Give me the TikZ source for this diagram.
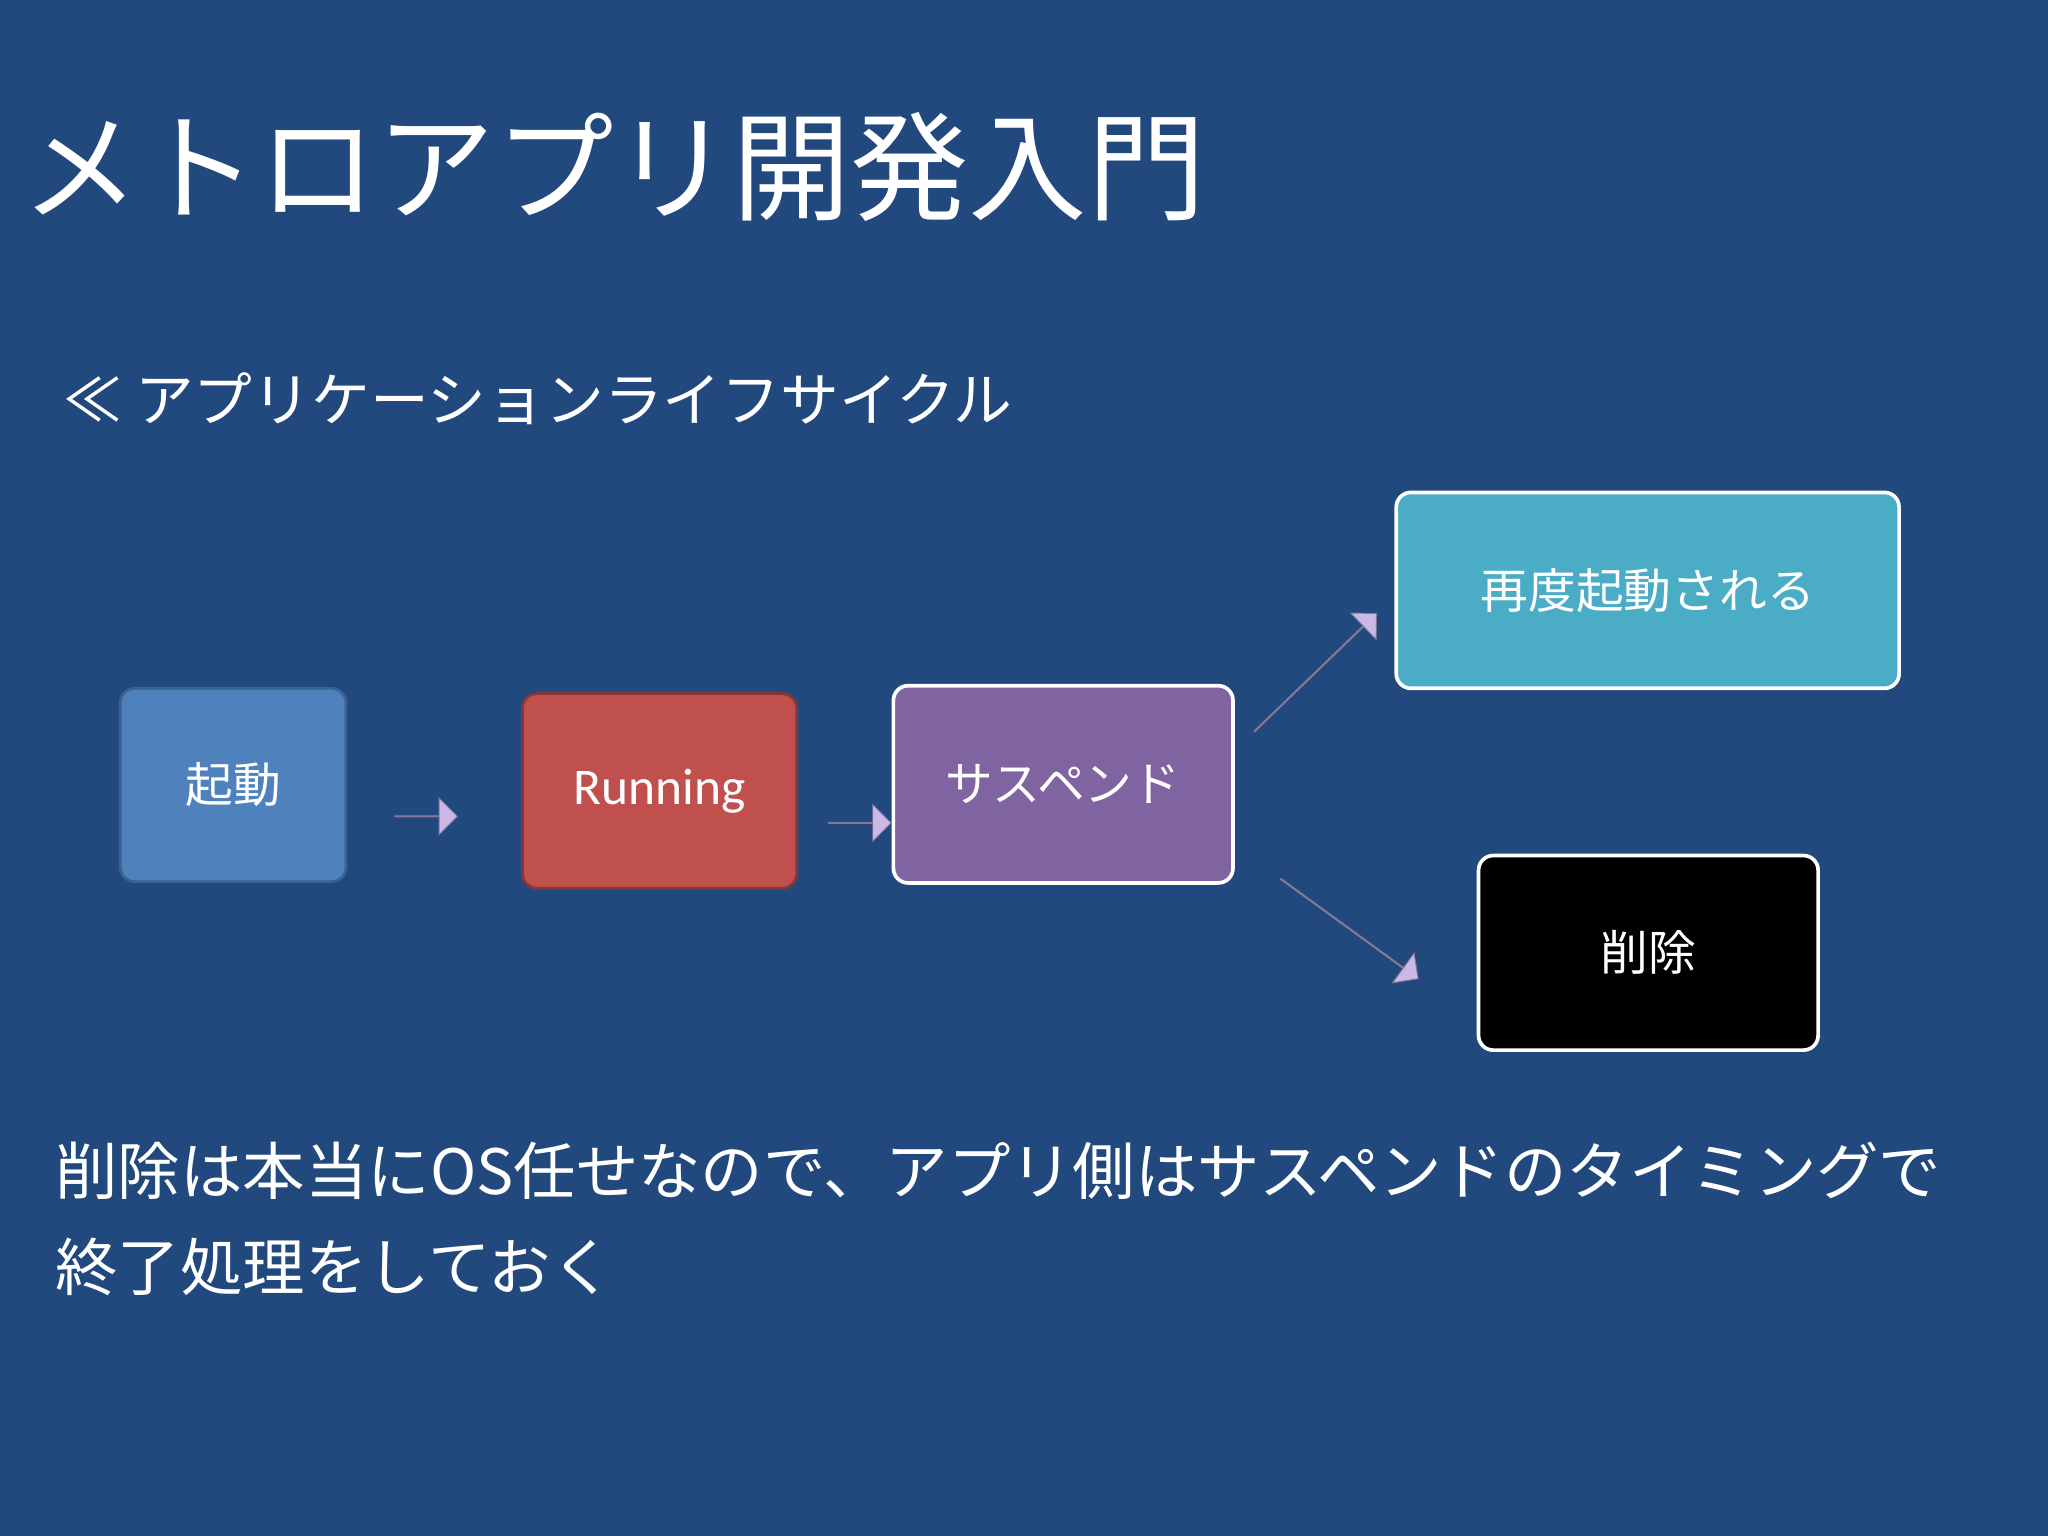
\documentclass[tikz,border=0pt]{standalone}
\usepackage{fontspec}
\setmainfont{Noto Sans CJK JP}
\newfontfamily\lat{Carlito}
\usetikzlibrary{shapes.arrows}
\definecolor{bg}{HTML}{21497D}
\definecolor{arr}{HTML}{CBB8E6}
\definecolor{c1}{HTML}{4F81BD}
\definecolor{c2}{HTML}{C0504D}
\definecolor{c3}{HTML}{8064A2}
\definecolor{c4}{HTML}{4BACC6}
\begin{document}
\begin{tikzpicture}[x=0.05cm,y=-0.05cm,
  box/.style={draw=white,line width=4pt,rounded corners=16pt,text=white,font=\fontsize{52}{60}\selectfont,inner sep=0pt},
  barr/.style={single arrow,fill=arr,draw=arr!65!black,line width=1pt,single arrow head extend=0.55cm,minimum height=#1,minimum width=1.4cm,inner sep=0pt}]
\fill[bg] (0,0) rectangle (1568,1176);
\node[anchor=west,text=white,font=\fontsize{129}{140}\selectfont] (t) at (14,128) {メトロアプリ開発入門};
\node[anchor=west,text=white,font=\fontsize{64}{76}\selectfont] (s) at (46,305) {≪ アプリケーションライフサイクル};
\node[box,fill=c1,draw=c1!75!black,line width=3pt,minimum width=8.65cm,minimum height=7.4cm] (k) at (178.5,601) {起動};
\node[box,fill=c2,draw=c2!70!black,line width=3pt,minimum width=10.5cm,minimum height=7.45cm,font=\lat\fontsize{56}{60}\selectfont] (r) at (505,605.5) {Running};
\node[box,fill=c3,minimum width=13cm,minimum height=7.55cm] (p) at (814,600.5) {サスペンド};
\node[box,fill=c4,minimum width=19.25cm,minimum height=7.5cm] (a) at (1261.5,452) {再度起動される};
\node[box,fill=black,minimum width=13cm,minimum height=7.45cm] (d) at (1262,729.5) {削除};
\node[barr=2.4cm] (a1) at (326,625) {};
\node[barr=2.4cm] (a2) at (658,630) {};
\node[barr=6.5cm,rotate=44] (a3) at (1007,515) {};
\node[barr=6.5cm,rotate=-36] (a4) at (1033,711) {};
\node[anchor=north west,text=white,align=left,font=\fontsize{68}{104}\selectfont] (b) at (40,872) {削除は本当にOS任せなので、アプリ側はサスペンドのタイミングで\\終了処理をしておく};
\end{tikzpicture}
\end{document}
